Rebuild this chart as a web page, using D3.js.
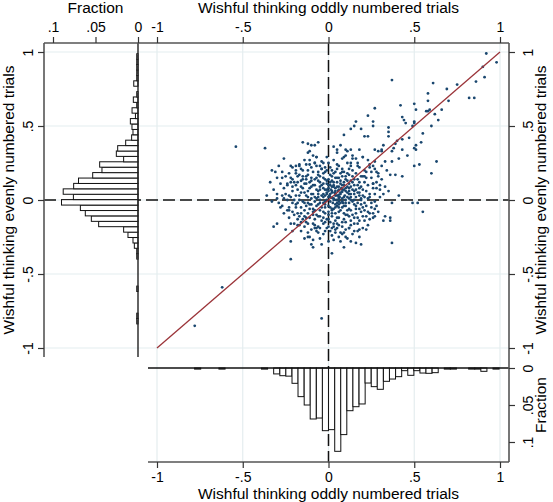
<!DOCTYPE html>
<html>
<head>
<meta charset="utf-8">
<script src="https://cdn.jsdelivr.net/npm/d3@7"></script>
<style>
  body { margin: 0; background: #fff; }
  svg text { font-family: "Liberation Sans", Arial, Helvetica, sans-serif; fill: #000; }
</style>
</head>
<body>
<div id="chart"></div>
<script>
////////// Data: Start //////////
// tick values and labels
const mainTicks = [-1, -0.5, 0, 0.5, 1];
const mainTickLabels = ["-1", "-.5", "0", ".5", "1"];
const fracTicks = [0, 0.05, 0.1];
const fracTickLabels = ["0", ".05", ".1"];

// histogram of evenly numbered trials (bin mid, fraction)
const evenBinMid = [-0.819, -0.783, -0.600, -0.381, -0.345, -0.308, -0.272, -0.235, -0.199, -0.162,
  -0.126, -0.089, -0.053, -0.016, 0.021, 0.057, 0.094, 0.130, 0.167, 0.203, 0.240, 0.276, 0.313,
  0.349, 0.386, 0.422, 0.459, 0.495, 0.532, 0.568, 0.605, 0.641, 0.678, 0.714, 0.787, 0.824,
  0.860, 0.897, 0.933, 0.970];
const evenFrac = [0.0015, 0.0015, 0.0015, 0.0015, 0.0015, 0.0043, 0.0059, 0.0118, 0.0169, 0.0463,
  0.0549, 0.062, 0.0678, 0.090, 0.076, 0.088, 0.0757, 0.070, 0.0533, 0.0424, 0.0451, 0.0169, 0.0255,
  0.0239, 0.0145, 0.0075, 0.0059, 0.0071, 0.009, 0.003, 0.007, 0.0015, 0.0055, 0.0015, 0.005, 0.0015,
  0.0015, 0.0015, 0.0015, 0.0015];

// histogram of oddly numbered trials (bin mid, fraction)
const oddBinMid = [-0.763, -0.621, -0.373, -0.302, -0.266, -0.231, -0.195, -0.160, -0.124, -0.089,
  -0.053, -0.018, 0.018, 0.054, 0.089, 0.125, 0.160, 0.196, 0.231, 0.267, 0.302, 0.338, 0.373,
  0.409, 0.444, 0.480, 0.515, 0.551, 0.586, 0.622, 0.693, 0.728, 0.835, 0.871, 0.906, 0.977];
const oddFrac = [0.0015, 0.0015, 0.0015, 0.008, 0.0104, 0.011, 0.0207, 0.0387, 0.050, 0.0689,
  0.0676, 0.0847, 0.0833, 0.1126, 0.090, 0.0577, 0.0523, 0.0486, 0.0203, 0.0252, 0.0288, 0.018, 0.0149,
  0.0117, 0.0036, 0.0099, 0.0036, 0.0068, 0.0072, 0.0063, 0.0015, 0.0015, 0.0015, 0.0015, 0.0045, 0.0015];

// 45 degree line
const diagX = [-1, 1];
const diagY = [-1, 1];

// [oddly numbered, evenly numbered] per subject
const pairs = [
  [0.92,0.99],[0.98,0.93],[0.90,0.90],[0.37,0.81],[0.86,0.80],[0.91,0.83],[0.61,0.79],[0.75,0.78],
  [0.58,0.72],[0.69,0.75],[0.58,0.67],[0.70,0.67],[0.82,0.69],[0.85,0.69],[0.42,0.64],[0.50,0.65],
  [0.51,0.61],[0.66,0.61],[0.59,0.61],[0.57,0.60],[0.58,0.60],[0.62,0.58],[0.43,0.56],[0.44,0.54],
  [0.45,0.52],[0.50,0.53],[0.50,0.52],[0.64,0.54],[0.60,0.50],[0.49,0.50],[0.35,0.49],[0.35,0.46],
  [0.35,0.43],[0.55,0.45],[0.47,0.42],[0.43,0.41],[0.40,0.40],[0.39,0.38],[0.54,0.39],[0.51,0.37],
  [0.50,0.35],[0.32,0.37],[0.31,0.34],[0.38,0.35],[0.43,0.34],
  [0.27,0.62],[0.23,0.57],[0.26,0.53],[0.26,0.50],[0.16,0.53],[0.13,0.48],[0.15,0.50],[0.19,0.48],
  [0.21,0.43],[0.23,0.43],[0.09,0.44],[-0.37,0.35],[-0.15,0.39],[-0.12,0.38],[-0.10,0.37],[-0.08,0.37],
  [-0.06,0.39],[-0.12,0.32],[-0.11,0.33],[-0.07,0.29],[0.07,0.37],[0.03,0.36],[0.05,0.34],[0.05,0.32],
  [0.10,0.34],[0.11,0.33],[0.13,0.34],[0.09,0.29],[0.14,0.30],[0.18,0.34],[0.20,0.29],[0.27,0.34],
  [0.29,0.33],[0.41,0.28],[0.37,0.26],[0.33,0.26],[0.27,0.26],[0.24,0.24],[0.31,0.23],[0.34,0.20],
  [0.36,0.17],[0.39,0.17],[0.43,0.16],[0.29,0.16],[0.25,0.19],[0.28,0.19],[0.30,0.10],[0.26,0.11],
  [0.21,0.16],[0.17,0.23],[0.13,0.23],[0.53,0.24],[0.50,0.23],[0.63,0.26],[0.60,0.18],[0.46,0.30],
  [0.51,0.34],[0.37,0.33],[0.31,0.33],
  [-0.31,0.19],[-0.27,0.15],[-0.24,0.11],[-0.22,0.23],[-0.19,0.23],[-0.19,0.20],[-0.17,0.23],[-0.18,0.16],
  [-0.20,0.12],[-0.15,0.16],[-0.13,0.14],[-0.11,0.24],[-0.08,0.25],[-0.05,0.23],[-0.04,0.21],[-0.02,0.19],
  [-0.30,0.04],[-0.27,0.03],[-0.30,0.01],[-0.29,-0.02],[-0.28,-0.05],[-0.26,0.01],[-0.24,-0.07],[-0.23,-0.07],
  [-0.32,-0.18],[-0.30,-0.16],[-0.25,-0.20],[-0.21,-0.21],[-0.20,-0.16],[-0.18,-0.13],[-0.17,-0.17],[-0.22,-0.28],
  [-0.22,-0.40],[-0.14,-0.11],[-0.12,-0.25],[-0.11,-0.25],[-0.09,-0.32],[-0.04,-0.30],[0.02,-0.36],[-0.09,-0.27],
  [-0.07,-0.21],[-0.08,-0.19],[-0.01,-0.19],[-0.02,-0.15],[0.02,-0.19],[0.04,-0.22],[0.03,-0.27],[0.07,-0.28],
  [0.11,-0.26],[0.08,-0.23],[0.10,-0.25],[0.12,-0.19],[0.15,-0.21],[0.16,-0.29],[0.19,-0.30],[0.18,-0.25],
  [0.20,-0.19],[0.22,-0.20],[0.24,-0.09],[0.27,-0.11],[0.29,-0.08],[0.32,-0.14],[0.33,-0.11],[0.36,-0.12],
  [0.36,-0.14],[0.37,-0.29],[0.37,-0.02],[0.41,0.03],[0.28,-0.04],[0.21,-0.02],[0.16,-0.04],[0.19,0.01],
  [0.27,0.04],[0.30,0.07],[0.35,0.06],[0.49,-0.02],[0.52,-0.02],[0.55,-0.08],
  [-0.54,0.36],[-0.62,-0.59],[-0.78,-0.85],[-0.04,-0.80],
  [-0.18,0.12],[-0.16,0.09],[-0.15,0.14],[-0.14,0.05],[-0.13,0.11],[-0.12,0.02],[-0.12,0.17],[-0.11,0.08],
  [-0.10,-0.03],[-0.10,0.13],[-0.09,0.04],[-0.09,0.19],[-0.08,-0.07],[-0.08,0.10],[-0.07,0.01],[-0.07,0.15],
  [-0.06,-0.11],[-0.06,0.06],[-0.05,-0.02],[-0.05,0.12],[-0.04,0.03],[-0.04,0.21],[-0.03,-0.08],[-0.03,0.08],
  [-0.02,-0.01],[-0.02,0.14],[-0.01,0.05],[-0.01,-0.13],[0.00,0.02],[0.00,0.10],[0.01,-0.05],[0.01,0.17],
  [0.02,0.06],[0.02,-0.09],[0.03,0.01],[0.03,0.12],[0.04,-0.03],[0.04,0.08],[0.05,0.03],[0.05,-0.12],
  [0.06,0.15],[0.06,-0.01],[0.07,0.05],[0.07,-0.07],[0.08,0.10],[0.08,0.01],[0.09,-0.04],[0.09,0.19],
  [0.10,0.06],[0.10,-0.10],[0.11,0.02],[0.11,0.13],[0.12,-0.02],[0.12,0.08],[0.13,0.04],[0.13,-0.14],
  [0.14,0.16],[0.15,0.00],[0.15,0.10],[0.16,-0.06],[0.17,0.05],[0.18,0.12],[0.19,-0.03],[0.20,0.07],
  [0.21,0.02],[0.22,0.15],[0.23,-0.08],[0.24,0.04],
  [-0.21,0.06],[-0.20,0.00],[-0.19,-0.05],[-0.17,0.03],[-0.16,-0.09],[-0.15,0.20],[-0.14,-0.02],[-0.13,-0.12],
  [-0.11,-0.06],[-0.10,0.22],[-0.09,-0.10],[-0.08,0.25],[-0.07,-0.04],[-0.06,0.17],[-0.05,0.07],[-0.04,-0.14],
  [-0.03,0.18],[-0.02,-0.05],[-0.01,0.11],[0.00,-0.08],[0.01,0.04],[0.02,0.13],[0.03,-0.16],[0.04,0.19],
  [0.05,0.09],[0.06,-0.05],[0.07,0.11],[0.08,-0.15],[0.09,0.07],[0.10,0.16],[0.11,-0.07],[0.12,0.21],
  [0.13,0.00],[0.14,-0.10],[0.15,0.06],[0.16,0.18],[0.17,-0.12],[0.18,0.03],[0.19,0.09],[0.20,-0.05],
  [0.21,0.20],[0.22,-0.11],[0.23,0.10],[0.25,-0.02],[0.26,0.08],[0.27,-0.06],[0.28,0.12],
  [0.005,0.03],[0.015,0.07],[0.025,-0.02],[0.035,0.05],[0.045,0.00],[0.055,0.06],[0.065,0.02],[0.075,0.08],
  [0.085,-0.02],[0.095,0.03],[0.02,0.015],[0.04,0.045],[0.06,0.035],[0.08,0.055],[0.03,0.09],[0.05,-0.04],
  [0.07,-0.02],[0.09,0.12],[0.01,0.10],[-0.01,0.07],[-0.02,0.03],[-0.03,0.04],[0.00,0.06],[0.11,0.09],
  [0.10,0.00],[0.12,0.04],[0.03,-0.06],[-0.04,0.10],[-0.06,0.02],[0.06,0.07],[0.14,0.07],[0.16,0.02],
  [0.04,0.15],[0.02,0.20],[-0.02,0.22],[0.07,0.18],[0.13,0.13],[0.17,0.14],[0.19,0.16],
  [-0.24,0.10],[-0.23,0.03],[-0.22,0.15],[-0.20,-0.10],[-0.19,0.18],[-0.18,-0.02],[-0.17,0.24],[-0.16,-0.15],
  [-0.14,-0.18],[-0.12,-0.16],[-0.11,0.27],[-0.10,-0.20],[-0.08,-0.17],[-0.07,0.29],[-0.06,-0.22],[-0.05,-0.19],
  [-0.04,0.26],[-0.02,-0.21],[0.00,-0.18],[0.00,0.25],[0.02,-0.24],[0.04,-0.20],[0.05,0.24],[0.06,-0.17],
  [0.08,0.28],[0.09,-0.22],[0.11,0.25],[0.12,-0.19],[0.14,0.28],[0.15,-0.16],[0.17,0.25],[0.18,-0.20],
  [0.20,0.29],[0.21,-0.14],[0.24,0.22],[0.26,-0.12],[0.29,0.18],[0.30,0.02],[0.31,0.14],[0.33,0.09],
  [-0.26,0.28],[-0.14,0.27],[-0.09,0.30],[-0.01,0.29],[0.03,0.27],[0.10,0.30],[0.16,0.28],[0.23,0.27],
  [-0.29,0.23],[-0.21,0.22],[-0.13,0.24],[-0.07,0.23],[-0.03,0.25],[0.01,0.22],[0.06,0.23],[0.08,0.21],
  [0.13,0.25],[0.18,0.22],[0.26,0.23],
  [-0.33,0.20],[-0.27,0.19],[-0.23,0.18],[-0.16,0.21],[-0.12,0.20],[-0.06,0.19],[-0.01,0.20],[0.03,0.18],
  [0.05,0.21],[0.08,0.19],[0.11,0.18],[0.14,0.20],[0.22,0.19],[0.27,0.21],
  [-0.30,0.15],[-0.25,0.16],[-0.21,0.14],[-0.17,0.17],[-0.13,0.16],[-0.10,0.15],[-0.08,0.14],[-0.05,0.16],
  [-0.03,0.15],[0.00,0.14],[0.02,0.16],[0.05,0.15],[0.08,0.16],[0.10,0.14],[0.12,0.17],[0.15,0.14],
  [0.20,0.16],[0.25,0.15],
  [-0.34,0.12],[-0.28,0.11],[-0.22,0.12],[-0.19,0.10],[-0.16,0.13],[-0.14,0.11],[-0.11,0.12],[-0.09,0.10],
  [-0.06,0.13],[-0.03,0.11],[-0.01,0.13],[0.01,0.12],[0.03,0.10],[0.05,0.12],[0.07,0.13],[0.09,0.10],
  [0.12,0.11],[0.14,0.12],[0.17,0.10],[0.21,0.12],[0.26,0.11],
  [-0.32,0.07],[-0.26,0.08],[-0.21,0.09],[-0.18,0.07],[-0.15,0.08],[-0.12,0.06],[-0.10,0.09],[-0.07,0.07],
  [-0.05,0.09],[-0.02,0.07],[0.00,0.08],[0.02,0.09],[0.04,0.06],[0.06,0.09],[0.08,0.07],[0.10,0.08],
  [0.12,0.06],[0.13,0.09],[0.16,0.07],[0.18,0.08],[0.22,0.06],[0.28,0.08],
  [-0.36,0.03],[-0.25,0.04],[-0.22,0.02],[-0.19,0.03],[-0.16,0.05],[-0.13,0.03],[-0.10,0.04],[-0.08,0.02],
  [-0.06,0.04],[-0.03,0.02],[-0.01,0.04],[0.01,0.02],[0.02,0.05],[0.04,0.03],[0.06,0.02],[0.07,0.04],
  [0.09,0.02],[0.11,0.05],[0.13,0.02],[0.15,0.04],[0.18,0.05],[0.20,0.03],[0.24,0.02],[0.32,0.04],
  [-0.33,-0.01],[-0.24,0.00],[-0.21,-0.02],[-0.17,0.00],[-0.15,-0.01],[-0.12,-0.02],[-0.10,0.01],[-0.08,-0.01],
  [-0.05,0.00],[-0.03,-0.02],[-0.01,0.00],[0.01,-0.01],[0.03,0.00],[0.05,-0.02],[0.06,0.01],[0.08,-0.01],
  [0.10,-0.02],[0.12,0.01],[0.14,-0.01],[0.17,-0.02],[0.19,0.00],[0.23,0.01],[0.27,-0.01],
  [-0.27,-0.04],[-0.23,-0.05],[-0.19,-0.03],[-0.16,-0.05],[-0.13,-0.04],[-0.11,-0.03],[-0.09,-0.06],[-0.06,-0.03],
  [-0.04,-0.05],[-0.02,-0.03],[0.00,-0.04],[0.02,-0.06],[0.04,-0.05],[0.06,-0.03],[0.08,-0.05],[0.10,-0.04],
  [0.12,-0.06],[0.15,-0.03],[0.18,-0.06],[0.22,-0.04],[0.25,-0.05],
  [-0.26,-0.09],[-0.21,-0.08],[-0.18,-0.09],[-0.14,-0.07],[-0.12,-0.09],[-0.09,-0.08],[-0.07,-0.10],[-0.05,-0.07],
  [-0.02,-0.09],[0.00,-0.10],[0.02,-0.07],[0.04,-0.09],[0.06,-0.08],[0.09,-0.09],[0.11,-0.10],[0.13,-0.07],
  [0.16,-0.09],[0.19,-0.08],[0.21,-0.07],[0.26,-0.09],
  [-0.23,-0.12],[-0.17,-0.11],[-0.15,-0.13],[-0.11,-0.12],[-0.08,-0.13],[-0.05,-0.11],[-0.03,-0.12],[0.00,-0.13],
  [0.02,-0.11],[0.04,-0.14],[0.06,-0.12],[0.09,-0.13],[0.12,-0.11],[0.15,-0.12],[0.18,-0.14],[0.20,-0.11],
  [0.24,-0.13],
  [-0.22,-0.16],[-0.18,-0.17],[-0.13,-0.15],[-0.09,-0.16],[-0.06,-0.18],[-0.03,-0.16],[0.01,-0.15],[0.03,-0.18],
  [0.05,-0.16],[0.08,-0.18],[0.10,-0.15],[0.13,-0.17],[0.17,-0.16],[0.23,-0.17],
  [-0.16,-0.21],[-0.12,-0.22],[-0.07,-0.19],[-0.03,-0.23],[0.01,-0.21],[0.05,-0.19],[0.07,-0.22],[0.10,-0.20],
  [0.14,-0.23],[0.17,-0.21],
  [-0.14,-0.26],[-0.05,-0.26],[0.00,-0.28],[0.06,-0.25],[0.13,-0.28],[-0.10,-0.30],[0.09,-0.32]
];
////////// Data: End //////////

//Frame positions of the combined graph
let frame = {left: 44, top: 43, right: 509, bottom: 462, histLeftBase: 138, histLeftEnd: 357, histBottomStart: 148, histBottomBase: 368};

let svg = d3.select("#chart").append("svg")
  .attr("width", 553)
  .attr("height", 502);

//Scales
let xScale = d3.scaleLinear().domain([-1, 1]).range([157, 500]);
let yScale = d3.scaleLinear().domain([-1, 1]).range([348, 52]);
let leftFracScale = d3.scaleLinear().domain([0, 0.1]).range([frame.histLeftBase, 53]);
let bottomFracScale = d3.scaleLinear().domain([0, 0.1]).range([frame.histBottomBase, 442]);

let gridColor = "#e4edef";
let frameColor = "#555";

///////// Grid: Start //////////
svg.append("g").selectAll("line.vgrid")
  .data(mainTicks)
  .enter().append("line")
  .attr("x1", d => xScale(d)).attr("x2", d => xScale(d))
  .attr("y1", frame.top).attr("y2", frame.bottom)
  .attr("stroke", gridColor).attr("stroke-width", 1.2);

svg.append("g").selectAll("line.hgrid")
  .data(mainTicks)
  .enter().append("line")
  .attr("x1", frame.left).attr("x2", frame.right)
  .attr("y1", d => yScale(d)).attr("y2", d => yScale(d))
  .attr("stroke", gridColor).attr("stroke-width", 1.2);
///////// Grid: End //////////

//Dashed reference lines at zero
svg.append("line")
  .attr("x1", xScale(0)).attr("x2", xScale(0))
  .attr("y1", frame.top).attr("y2", frame.bottom)
  .attr("stroke", "#111").attr("stroke-width", 1.5)
  .attr("stroke-dasharray", "12,5");
svg.append("line")
  .attr("x1", frame.left).attr("x2", frame.right)
  .attr("y1", yScale(0)).attr("y2", yScale(0))
  .attr("stroke", "#111").attr("stroke-width", 1.5)
  .attr("stroke-dasharray", "12,5");

///////// Histograms: Start //////////
let evenBinH = 0.0365;
let evenData = evenBinMid.map((m, i) => ({mid: m, frac: evenFrac[i]}));
svg.append("g").selectAll("rect")
  .data(evenData)
  .enter().append("rect")
  .attr("x", d => leftFracScale(d.frac))
  .attr("y", d => yScale(d.mid + evenBinH / 2))
  .attr("width", d => leftFracScale(0) - leftFracScale(d.frac))
  .attr("height", d => yScale(d.mid - evenBinH / 2) - yScale(d.mid + evenBinH / 2))
  .attr("fill", "white").attr("stroke", "#111").attr("stroke-width", 1);

let oddBinW = 0.0355;
let oddData = oddBinMid.map((m, i) => ({mid: m, frac: oddFrac[i]}));
svg.append("g").selectAll("rect")
  .data(oddData)
  .enter().append("rect")
  .attr("x", d => xScale(d.mid - oddBinW / 2))
  .attr("y", bottomFracScale(0))
  .attr("width", d => xScale(d.mid + oddBinW / 2) - xScale(d.mid - oddBinW / 2))
  .attr("height", d => bottomFracScale(d.frac) - bottomFracScale(0))
  .attr("fill", "white").attr("stroke", "#111").attr("stroke-width", 1);

//Histogram base lines
svg.append("line")
  .attr("x1", frame.histLeftBase).attr("x2", frame.histLeftBase)
  .attr("y1", frame.top).attr("y2", frame.histLeftEnd)
  .attr("stroke", "#222").attr("stroke-width", 1.4);
svg.append("line")
  .attr("x1", frame.histBottomStart).attr("x2", frame.right)
  .attr("y1", frame.histBottomBase).attr("y2", frame.histBottomBase)
  .attr("stroke", "#111").attr("stroke-width", 1.4);
///////// Histograms: End //////////

//Scatter points
svg.append("g").selectAll("circle")
  .data(pairs)
  .enter().append("circle")
  .attr("cx", d => xScale(d[0]))
  .attr("cy", d => yScale(d[1]))
  .attr("r", 1.4)
  .attr("fill", "#1a476f");

//45 degree line
svg.append("line")
  .attr("x1", xScale(diagX[0])).attr("y1", yScale(diagY[0]))
  .attr("x2", xScale(diagX[1])).attr("y2", yScale(diagY[1]))
  .attr("stroke", "#9b3439").attr("stroke-width", 1.3);

///////// Frame lines //////////
let frameLines = [
  [frame.left, frame.top, frame.right, frame.top],
  [frame.left, frame.top, frame.left, frame.histLeftEnd],
  [frame.right, frame.top, frame.right, frame.bottom],
  [frame.histBottomStart, frame.bottom, frame.right, frame.bottom]
];
svg.append("g").selectAll("line")
  .data(frameLines)
  .enter().append("line")
  .attr("x1", d => d[0]).attr("y1", d => d[1])
  .attr("x2", d => d[2]).attr("y2", d => d[3])
  .attr("stroke", frameColor).attr("stroke-width", 1.6);

///////// Axes: Start //////////
let tickFont = "14px";
function styleAxis(g)
{
  g.select(".domain").remove();
  g.selectAll(".tick line").attr("stroke", "#333").attr("stroke-width", 1.2);
  g.selectAll(".tick text").attr("font-size", tickFont).attr("fill", "#000")
    .attr("font-family", "Liberation Sans, Arial, sans-serif");
}
let mainFmt = d => mainTickLabels[mainTicks.indexOf(d)];
let fracFmt = d => fracTickLabels[fracTicks.indexOf(d)];

//Top x axis
svg.append("g").attr("transform", "translate(0," + frame.top + ")")
  .call(d3.axisTop(xScale).tickValues(mainTicks).tickFormat(mainFmt).tickSize(6))
  .call(styleAxis)
  .call(g => g.selectAll(".tick text").attr("y", -11));

//Bottom x axis
svg.append("g").attr("transform", "translate(0," + frame.bottom + ")")
  .call(d3.axisBottom(xScale).tickValues(mainTicks).tickFormat(mainFmt).tickSize(6))
  .call(styleAxis)
  .call(g => g.selectAll(".tick text").attr("y", 19.5).attr("dy", null));

//Top fraction axis of the left histogram
svg.append("g").attr("transform", "translate(0," + frame.top + ")")
  .call(d3.axisTop(leftFracScale).tickValues(fracTicks).tickFormat(fracFmt).tickSize(6))
  .call(styleAxis)
  .call(g => g.selectAll(".tick text").attr("y", -11));

//Left y axis
svg.append("g").attr("transform", "translate(" + frame.left + ",0)")
  .call(d3.axisLeft(yScale).tickValues(mainTicks).tickFormat(mainFmt).tickSize(6))
  .call(styleAxis)
  .call(g => g.selectAll(".tick text")
    .attr("x", null).attr("dy", null).attr("text-anchor", "middle")
    .attr("transform", "translate(-11,0) rotate(-90)"));

//Right y axis
svg.append("g").attr("transform", "translate(" + frame.right + ",0)")
  .call(d3.axisRight(yScale).tickValues(mainTicks).tickFormat(mainFmt).tickSize(6))
  .call(styleAxis)
  .call(g => g.selectAll(".tick text")
    .attr("x", null).attr("dy", null).attr("text-anchor", "middle")
    .attr("transform", "translate(24,0) rotate(-90)"));

//Right fraction axis of the bottom histogram
svg.append("g").attr("transform", "translate(" + frame.right + ",0)")
  .call(d3.axisRight(bottomFracScale).tickValues(fracTicks).tickFormat(fracFmt).tickSize(6))
  .call(styleAxis)
  .call(g => g.selectAll(".tick text")
    .attr("x", null).attr("dy", null).attr("text-anchor", "middle")
    .attr("transform", "translate(24,0) rotate(-90)"));
///////// Axes: End //////////

///////// Titles //////////
let titleSize = "15.5px";
svg.append("text").attr("x", xScale(0)).attr("y", 13)
  .attr("text-anchor", "middle").attr("font-size", titleSize)
  .text("Wishful thinking oddly numbered trials");
svg.append("text").attr("x", xScale(0)).attr("y", 498.5)
  .attr("text-anchor", "middle").attr("font-size", titleSize)
  .text("Wishful thinking oddly numbered trials");
svg.append("text").attr("x", leftFracScale(0.05)).attr("y", 13)
  .attr("text-anchor", "middle").attr("font-size", titleSize)
  .text("Fraction");
svg.append("text")
  .attr("transform", "translate(14," + yScale(0) + ") rotate(-90)")
  .attr("text-anchor", "middle").attr("font-size", titleSize)
  .text("Wishful thinking evenly numbered trials");
svg.append("text")
  .attr("transform", "translate(546," + yScale(0) + ") rotate(-90)")
  .attr("text-anchor", "middle").attr("font-size", titleSize)
  .text("Wishful thinking evenly numbered trials");
svg.append("text")
  .attr("transform", "translate(546," + bottomFracScale(0.05) + ") rotate(-90)")
  .attr("text-anchor", "middle").attr("font-size", titleSize)
  .text("Fraction");
</script>
</body>
</html>
